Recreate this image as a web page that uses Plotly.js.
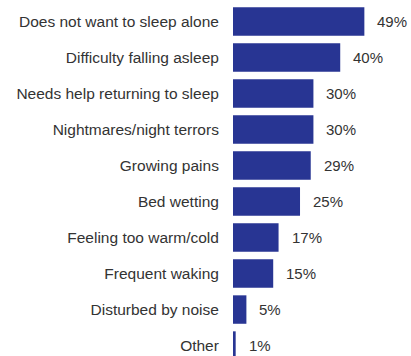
<!DOCTYPE html>
<html>
<head>
<meta charset="utf-8">
<script src="https://cdn.plot.ly/plotly-3.0.1.min.js"></script>
<style>html,body{margin:0;padding:0;background:#fff;}#chart{width:411px;height:356px;}</style>
</head>
<body>
<div id="chart"></div>
<script>
const categories = [
  "Does not want to sleep alone",
  "Difficulty falling asleep",
  "Needs help returning to sleep",
  "Nightmares/night terrors",
  "Growing pains",
  "Bed wetting",
  "Feeling too warm/cold",
  "Frequent waking",
  "Disturbed by noise",
  "Other"
];
const values = [49, 40, 30, 30, 29, 25, 17, 15, 5, 1];
const valueLabels = values.map(v => v + "%");

const FONT = "Liberation Sans, Arial, sans-serif";

const trace = {
  type: "bar",
  orientation: "h",
  y: categories,
  x: values,
  marker: {color: "#283593"},
  hoverinfo: "none"
};

const annotations = categories.map((c, i) => ({
  x: values[i],
  y: c,
  xref: "x",
  yref: "y",
  text: valueLabels[i],
  showarrow: false,
  xanchor: "left",
  yanchor: "middle",
  xshift: 11,
  font: {family: FONT, size: 15, color: "#333333"}
}));

const layout = {
  width: 411,
  height: 356,
  margin: {l: 233, r: 0, t: 0, b: 0, pad: 0},
  paper_bgcolor: "#ffffff",
  plot_bgcolor: "#ffffff",
  bargap: 0.21,
  showlegend: false,
  font: {family: FONT, size: 15, color: "#333333"},
  annotations: annotations,
  xaxis: {
    range: [0, 66.4],
    visible: false,
    showgrid: false,
    zeroline: false
  },
  yaxis: {
    type: "category",
    range: [9.29, -0.597],
    showgrid: false,
    zeroline: false,
    showline: false,
    ticks: "outside",
    ticklen: 10,
    tickcolor: "rgba(0,0,0,0)",
    tickfont: {family: FONT, size: 15.5, color: "#333333"}
  }
};

Plotly.newPlot("chart", [trace], layout, {staticPlot: true, displayModeBar: false});
</script>
</body>
</html>
